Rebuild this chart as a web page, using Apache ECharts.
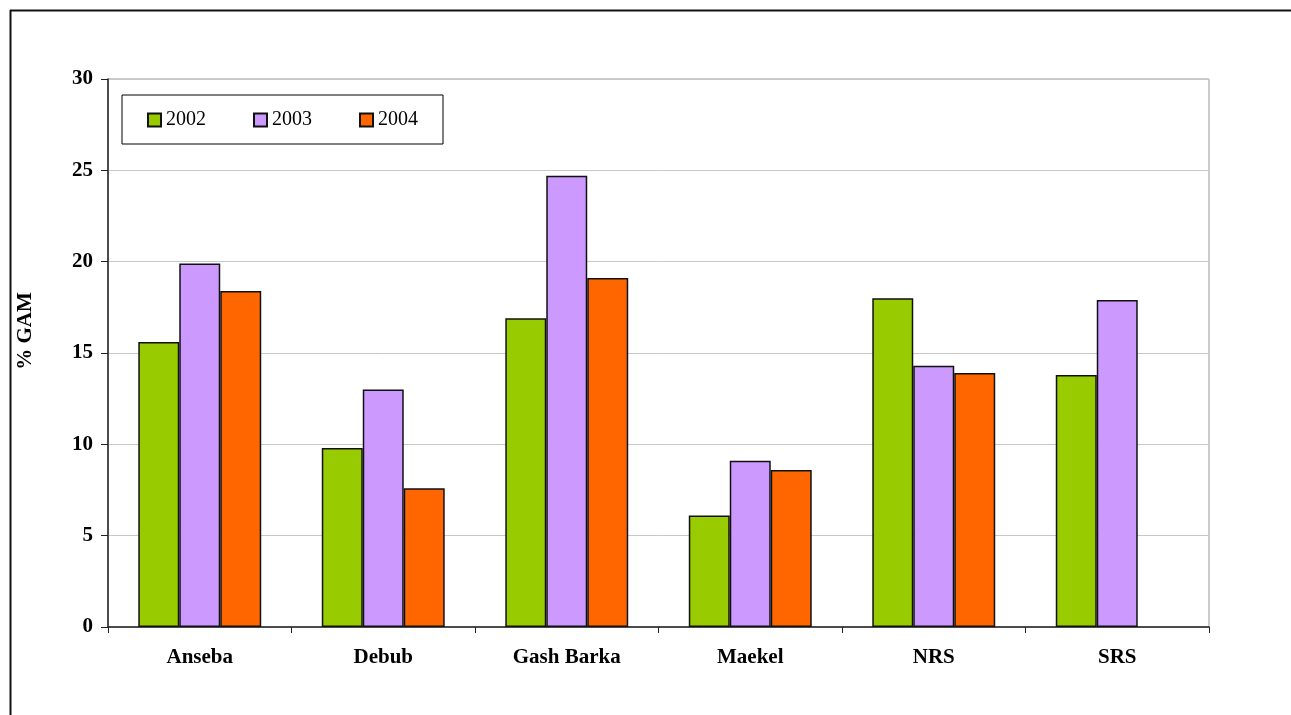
<!DOCTYPE html>
<html>
<head>
<meta charset="utf-8">
<script src="https://cdn.jsdelivr.net/npm/echarts@6/dist/echarts.min.js"></script>
<style>
  html, body { margin: 0; padding: 0; background: #fff; }
  #chart { width: 1291px; height: 715px; }
</style>
</head>
<body>
<div id="chart"></div>
<script>
// Regions and GAM prevalence (%) per survey year
const regions = ['Anseba', 'Debub', 'Gash Barka', 'Maekel', 'NRS', 'SRS'];
const years = ['2002', '2003', '2004'];
const gam2002 = [15.6, 9.8, 16.9, 6.1, 18.0, 13.8];
const gam2003 = [19.9, 13.0, 24.7, 9.1, 14.3, 17.9];
const gam2004 = [18.4, 7.6, 19.1, 8.6, 13.9, null];
const yearColors = ['#99CC00', '#CC99FF', '#FF6600'];

const font = 'Liberation Serif, Times New Roman, serif';
const seriesData = [gam2002, gam2003, gam2004];

const chart = echarts.init(document.getElementById('chart'), null, { renderer: 'canvas' });

chart.setOption({
  backgroundColor: '#ffffff',
  animation: false,
  grid: {
    left: 108, right: 82, top: 79, bottom: 88,
    show: true, borderColor: '#999999', borderWidth: 1, backgroundColor: 'transparent'
  },
  legend: {
    left: 122, top: 95,
    orient: 'horizontal',
    padding: [15, 25, 14, 25],
    itemWidth: 13, itemHeight: 13, itemGap: 47,
    icon: 'rect',
    borderColor: '#000', borderWidth: 1,
    backgroundColor: '#fff',
    textStyle: { fontFamily: font, fontSize: 20, color: '#000' },
    data: years
  },
  xAxis: {
    type: 'category',
    data: regions,
    axisLine: { lineStyle: { color: '#222', width: 1.5 } },
    axisTick: { show: true, alignWithLabel: false, length: 6, lineStyle: { color: '#222' } },
    axisLabel: { fontFamily: font, fontSize: 21, fontWeight: 'bold', color: '#000', margin: 20 },
    splitLine: { show: false }
  },
  yAxis: {
    type: 'value',
    min: 0, max: 30, interval: 5,
    name: '% GAM',
    nameLocation: 'middle',
    nameGap: 72,
    nameRotate: 90,
    nameTextStyle: { fontFamily: font, fontSize: 21, fontWeight: 'bold', color: '#000', padding: [0, 0, 0, 44] },
    axisLine: { show: true, lineStyle: { color: '#222', width: 1.5 } },
    axisTick: { show: true, inside: false, length: 7, lineStyle: { color: '#222' } },
    axisLabel: { fontFamily: font, fontSize: 21, fontWeight: 'bold', color: '#000', margin: 15 },
    splitLine: { show: true, lineStyle: { color: '#c8c8c8', width: 1 } }
  },
  series: years.map((y, i) => ({
    name: y,
    type: 'bar',
    data: seriesData[i],
    barGap: '0%',
    barCategoryGap: '33%',
    itemStyle: { color: yearColors[i], borderColor: '#111', borderWidth: 1.5 }
  })),
  graphic: [
    // outer frame: top and left edges
    { type: 'line', shape: { x1: 10, y1: 10.5, x2: 1291, y2: 10.5 }, style: { stroke: '#111', lineWidth: 2 } },
    { type: 'line', shape: { x1: 10.5, y1: 10, x2: 10.5, y2: 715 }, style: { stroke: '#111', lineWidth: 2 } }
  ]
});
</script>
</body>
</html>
